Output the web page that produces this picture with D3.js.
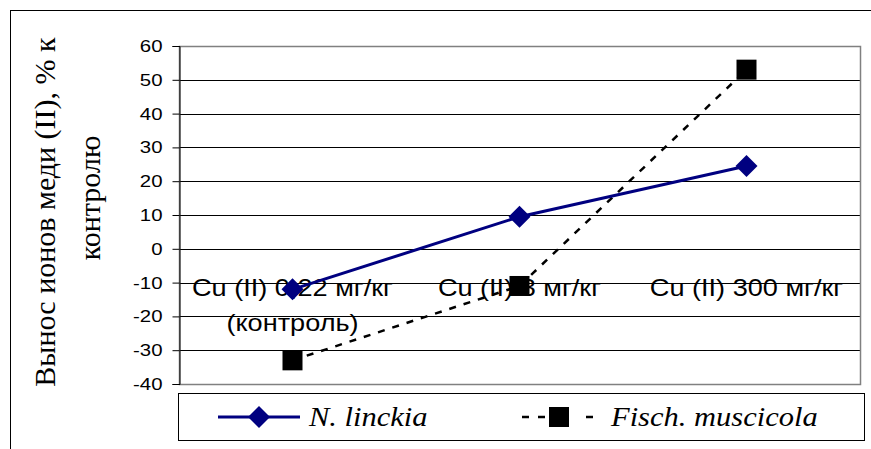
<!DOCTYPE html>
<html>
<head>
<meta charset="utf-8">
<script src="https://cdn.jsdelivr.net/npm/d3@7"></script>
<style>
  body { margin: 0; background: #fff; }
  svg { display: block; }
</style>
</head>
<body>
<div id="chart"></div>
<script>
// categories (each label can have several lines)
const categories = ["Cu (II) 0,22 мг/кг\n(контроль)", "Cu (II) 3 мг/кг", "Cu (II) 300 мг/кг"];
const linckiaValues = [-12, 9.5, 24.5];
const muscicolaValues = [-33, -11, 53];
const yTicks = [-40, -30, -20, -10, 0, 10, 20, 30, 40, 50, 60];
const seriesNames = ["N. linckia", "Fisch. muscicola"];
const yTitle = ["Вынос ионов меди (II), % к", "контролю"];

const width = 871, height = 449;
const plot = { left: 179, right: 860, top: 46, bottom: 384 };
const stretch = 1.2; // the reference text looks a bit wide

const svg = d3.select("#chart").append("svg")
  .attr("width", width)
  .attr("height", height);

svg.append("rect").attr("width", width).attr("height", height).attr("fill", "#fff");

// outer frame, runs off the right and bottom of the picture
svg.append("rect")
  .attr("x", 10.5).attr("y", 10.5)
  .attr("width", 900).attr("height", 500)
  .attr("fill", "none").attr("stroke", "#000");

const x = d3.scaleBand().domain(categories).range([plot.left, plot.right]);
const y = d3.scaleLinear().domain([-40, 60]).range([plot.bottom, plot.top]);
const cx = (i) => x(categories[i]) + x.bandwidth() / 2;

// grid lines
svg.append("g")
  .selectAll("line")
  .data(yTicks.filter(t => t > -40 && t < 60))
  .join("line")
  .attr("x1", plot.left).attr("x2", plot.right)
  .attr("y1", d => Math.round(y(d)) + 0.5).attr("y2", d => Math.round(y(d)) + 0.5)
  .attr("stroke", "#000");

// plot frame (grey)
svg.append("rect")
  .attr("x", plot.left + 0.5).attr("y", plot.top + 0.5)
  .attr("width", plot.right - plot.left).attr("height", plot.bottom - plot.top)
  .attr("fill", "none").attr("stroke", "#808080").attr("stroke-width", 1.5);

// y axis
const yAxis = svg.append("g")
  .attr("transform", `translate(${plot.left + 0.5},0)`)
  .call(d3.axisLeft(y).tickValues(yTicks).tickSize(7).tickFormat(d => String(d)));
yAxis.select(".domain").attr("stroke", "#000");
yAxis.selectAll(".tick line").attr("stroke", "#000");
yAxis.selectAll("text")
  .attr("font-family", "'Liberation Sans', Arial, sans-serif")
  .attr("font-size", 17)
  .attr("fill", "#000")
  .attr("x", -17 / stretch)
  .attr("transform", `scale(${stretch},1)`);

// category labels (drawn under the series, as in the reference)
const catG = svg.append("g")
  .attr("font-family", "'Liberation Sans', Arial, sans-serif")
  .attr("font-size", 24)
  .attr("text-anchor", "middle")
  .attr("fill", "#000");
categories.forEach((c, i) => {
  const t = catG.append("text")
    .attr("transform", `translate(${cx(i)},296) scale(1.13,1)`);
  c.split("\n").forEach((line, j) => {
    t.append("tspan").attr("x", 0).attr("dy", j === 0 ? 0 : 35).text(line);
  });
});

// y title
const titleG = svg.append("g")
  .attr("font-family", "'Liberation Serif', 'Times New Roman', serif")
  .attr("font-size", 30)
  .attr("text-anchor", "middle")
  .attr("fill", "#000");
titleG.append("text").attr("transform", "translate(55,212) rotate(-90)").text(yTitle[0]);
titleG.append("text").attr("transform", "translate(100,198) rotate(-90)").text(yTitle[1]);

// series
const line = d3.line().x((d, i) => cx(i)).y(d => y(d));

svg.append("path")
  .datum(muscicolaValues)
  .attr("d", line)
  .attr("fill", "none")
  .attr("stroke", "#000")
  .attr("stroke-width", 2.5)
  .attr("stroke-dasharray", "7,8");

svg.append("path")
  .datum(linckiaValues)
  .attr("d", line)
  .attr("fill", "none")
  .attr("stroke", "#000080")
  .attr("stroke-width", 3);

const diamond = (g, px, py) => g.append("path")
  .attr("d", `M${px},${py - 11}L${px + 11},${py}L${px},${py + 11}L${px - 11},${py}Z`)
  .attr("fill", "#000080");
const square = (g, px, py) => g.append("rect")
  .attr("x", px - 10).attr("y", py - 10).attr("width", 20).attr("height", 20)
  .attr("fill", "#000");

linckiaValues.forEach((v, i) => diamond(svg, cx(i), y(v)));
muscicolaValues.forEach((v, i) => square(svg, cx(i), y(v)));

// legend
const leg = svg.append("g");
leg.append("rect")
  .attr("x", 178.5).attr("y", 393.5).attr("width", 686).attr("height", 47)
  .attr("fill", "#fff").attr("stroke", "#000");
const ly = 417;
leg.append("line").attr("x1", 218).attr("x2", 300).attr("y1", ly).attr("y2", ly)
  .attr("stroke", "#000080").attr("stroke-width", 3);
diamond(leg, 259, ly);
leg.append("line").attr("x1", 522).attr("x2", 596).attr("y1", ly).attr("y2", ly)
  .attr("stroke", "#000").attr("stroke-width", 2.5).attr("stroke-dasharray", "7,9,7,41");
square(leg, 559, ly);
const legText = leg.append("g")
  .attr("font-family", "'Liberation Serif', 'Times New Roman', serif")
  .attr("font-style", "italic")
  .attr("font-size", 27)
  .attr("fill", "#000");
legText.append("text").attr("transform", `translate(309,${ly + 9}) scale(1.13,1)`).text(seriesNames[0]);
legText.append("text").attr("transform", `translate(611,${ly + 9}) scale(1.13,1)`).text(seriesNames[1]);
</script>
</body>
</html>
